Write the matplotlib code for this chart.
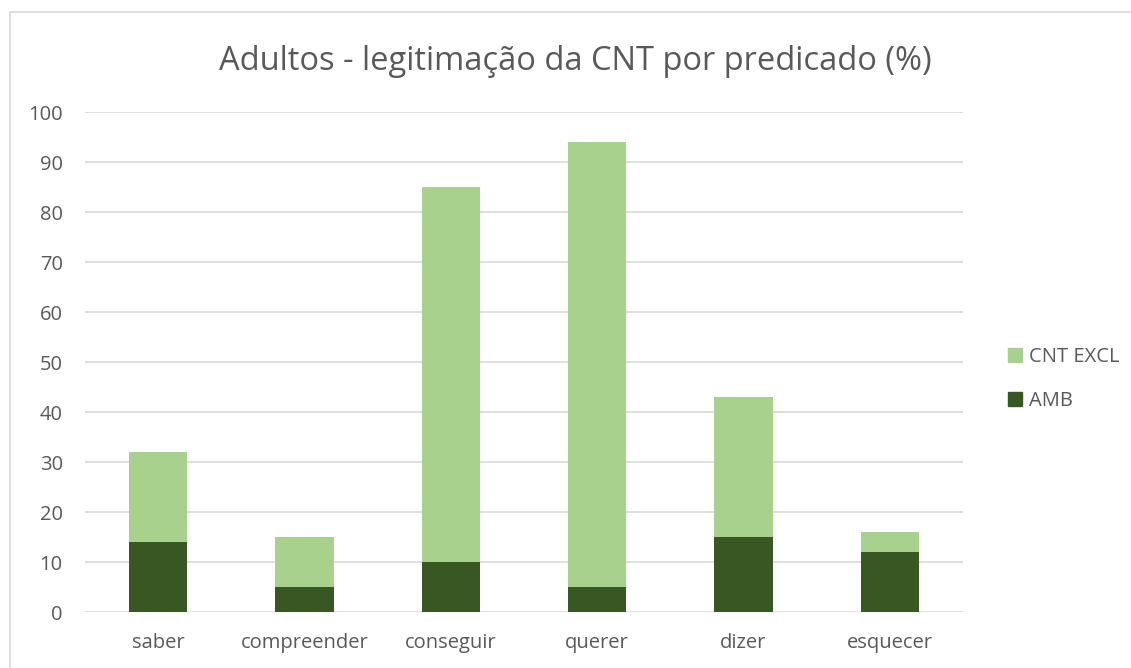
import matplotlib.pyplot as plt
from matplotlib.patches import Rectangle, Patch

# Data
categories = ["saber", "compreender", "conseguir", "querer", "dizer", "esquecer"]
amb = [14, 5, 10, 5, 15, 12]
cnt_excl = [18, 10, 75, 89, 28, 4]

plt.rcParams['font.family'] = ['Open Sans', 'DejaVu Sans']
text_color = "#595959"
light_green = "#A9D18E"
dark_green = "#385723"

fig = plt.figure(figsize=(11.31, 6.68), dpi=100)
ax = fig.add_axes([85 / 1131, 56 / 668, 878 / 1131, 500 / 668])

# Outer chart border
fig.patches.append(Rectangle((10 / 1131, -0.01), 1.2, (668 - 12) / 668 + 0.01,
                             transform=fig.transFigure, fill=False,
                             edgecolor="#D9D9D9", linewidth=1.2))

x = range(len(categories))
ax.bar(x, amb, width=0.4, color=dark_green, label="AMB", zorder=3)
ax.bar(x, cnt_excl, width=0.4, bottom=amb, color=light_green, label="CNT EXCL", zorder=3)

ax.set_xlim(-0.5, len(categories) - 0.5)
ax.set_ylim(0, 100)
ax.set_yticks(range(0, 101, 10))
ax.set_xticks(list(x))
ax.set_xticklabels(categories)
ax.grid(axis="y", color="#D9D9D9", linewidth=1.2, zorder=0)
for s in ax.spines.values():
    s.set_visible(False)
ax.tick_params(length=0, labelsize=14.5, colors=text_color)
ax.tick_params(axis="x", pad=15)
ax.tick_params(axis="y", pad=16)

fig.text(575 / 1131, 1 - 62 / 668, "Adultos - legitimação da CNT por predicado (%)",
         ha="center", va="center", fontsize=23.5, color=text_color)

handles = [Patch(color=light_green), Patch(color=dark_green)]
fig.legend(handles, ["CNT EXCL", "AMB"], loc="center left",
           bbox_to_anchor=(990 / 1131, 1 - 379 / 668), frameon=False,
           fontsize=14.5, labelcolor=text_color, handlelength=0.7, handleheight=0.7,
           handletextpad=0.35, labelspacing=1.2)

fig.savefig("out.png", dpi=100)
